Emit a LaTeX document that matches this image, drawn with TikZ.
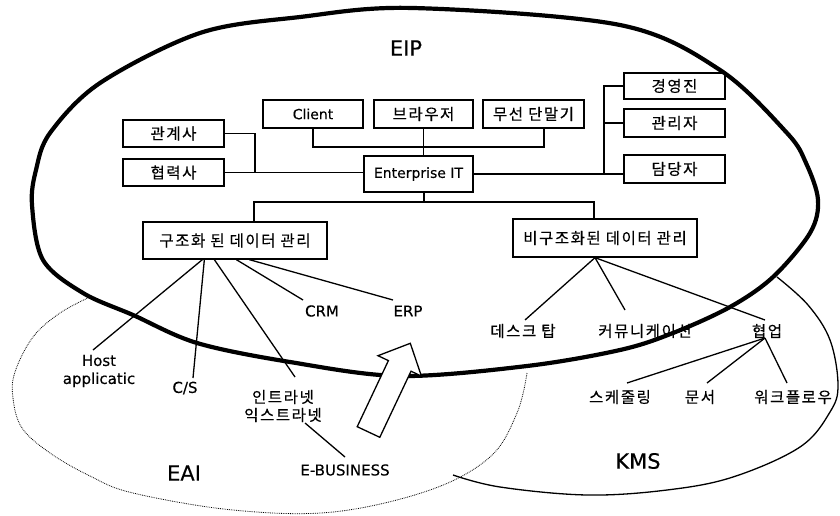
\documentclass[tikz,border=0pt]{standalone}
\usepackage{fontspec}
\newfontfamily\latf[FakeBold=0.3]{DejaVu Sans}
\newfontfamily\korf[LetterSpace=10, FakeBold=0.4]{Noto Sans CJK KR}
\usetikzlibrary{calc}

\begin{document}
\begin{tikzpicture}[x=1pt,y=-1pt,
  box/.style={draw, line width=1.3pt, fill=white, inner sep=0pt, minimum height=28pt},
  conn/.style={line width=1.1pt},
  leafline/.style={line width=1.3pt},
  kt/.style={font=\korf\fontsize{15.5}{18}\selectfont},
  lt/.style={font=\latf\fontsize{14}{18}\selectfont},
  lleaf/.style={font=\latf\fontsize{15}{18}\selectfont, inner sep=0pt, align=center},
  kleaf/.style={font=\korf\fontsize{15.5}{18}\selectfont, inner sep=0pt, align=center},
  biglabel/.style={font=\latf\fontsize{21}{24}\selectfont, inner sep=0pt},
  boundary/.style={line width=4.2pt, line join=round},
]
\fill[white] (0,0) rectangle (840,516);
\useasboundingbox (0,0) rectangle (840,516);

% EAI region (dotted) and KMS region (solid), partly hidden by EIP
\draw[line width=0.8pt, densely dotted] plot[smooth, tension=0.6] coordinates {
  (92,296) (60,313) (33,337) (15,372) (13,398) (22,428) (50,453) (90,476)
  (133,493) (233,510) (333,512) (430,490) (490,457) (517,413) (527,373)};
\draw[line width=1.3pt] plot[smooth, tension=0.6] coordinates {
  (777,277) (808,305) (830,340) (838,385) (830,412) (800,447) (733,477)
  (667,490) (587,495) (500,487) (453,475)};

% boxes
\node[box, kt, minimum width=101pt, minimum height=27pt] (gwangye) at (173.5,133.5) {관계사};
\node[box, kt, minimum width=101pt, minimum height=27pt] (hyeop) at (173.5,172.5) {협력사};
\node[box, lt, minimum width=100pt] (client) at (313,114) {Client};
\node[box, kt, minimum width=99pt] (browser) at (423.5,114) {브라우저};
\node[box, kt, minimum width=101pt] (wireless) at (533.5,114) {무선 단말기};
\node[box, lt, minimum width=109pt, minimum height=36pt] (ent) at (418.5,174) {Enterprise IT};
\node[box, kt, minimum width=101pt, minimum height=26pt] (exec) at (674.5,86) {경영진};
\node[box, kt, minimum width=101pt] (mgr) at (674.5,123) {관리자};
\node[box, kt, minimum width=101pt] (staff) at (674.5,169) {담당자};
\node[box, kt, minimum width=184pt, minimum height=37pt] (sdata) at (235,240.5) {구조화 된 데이터 관리};
\node[box, kt, minimum width=184pt, minimum height=38pt] (udata) at (605,238) {비구조화된 데이터 관리};

% connectors of the organisation chart
\coordinate (busR) at (544,147);
\coordinate (lv) at (255,172.5);
\coordinate (rv) at (604,174);
\coordinate (hb) at (424,202);
\coordinate (hl) at (254,202);
\coordinate (hr) at (594,202);
\draw[conn] (client.south) -- (client.south |- busR) -- (busR) -- (busR |- wireless.south);
\draw[conn] (browser.south) -- (browser.south |- ent.north);
\draw[conn] (gwangye.east) -| (lv);
\draw[conn] (hyeop.east) -- (hyeop.east -| ent.west);
\draw[conn] (ent.east) -- (ent.east -| staff.west);
\draw[conn] (exec.west) -| (rv);
\draw[conn] (mgr.west) -- (mgr.west -| rv);
\draw[conn] (hb |- ent.south) -- (hb);
\draw[conn] (hl |- sdata.north) -- (hl) -- (hr) -- (hr |- udata.north);

% leaves of the structured data
\node[lleaf] (host) at (99,371) {Host\\applicatic};
\node[lleaf] (cs) at (185,388) {C/S};
\node[kleaf] (intra) at (283,406) {인트라넷\\익스트라넷};
\node[lleaf] (crm) at (322,311) {CRM};
\node[lleaf] (erp) at (408,311) {ERP};
\node[lleaf] (ebiz) at (345,470) {E-BUSINESS};
\draw[leafline] ([xshift=60pt]sdata.south west) -- ([shift={(-6pt,21pt)}]host.center);
\draw[leafline] ([xshift=62pt]sdata.south west) -- ([shift={(8pt,10pt)}]cs.center);
\draw[leafline] ([xshift=72pt]sdata.south west) -- ([shift={(12pt,29pt)}]intra.center);
\draw[leafline] ([xshift=94pt]sdata.south west) -- ([shift={(-19pt,11pt)}]crm.center);
\draw[leafline] ([xshift=107pt]sdata.south west) -- ([shift={(-15pt,11pt)}]erp.center);
\draw[leafline] ([shift={(22pt,-17pt)}]intra.center) -- ([shift={(0pt,13pt)}]ebiz.center);

% leaves of the unstructured data
\node[kleaf] (desk) at (523,331) {데스크 탑};
\node[kleaf] (comm) at (645,331) {커뮤니케이션};
\node[kleaf] (collab) at (767,331) {협업};
\node[kleaf] (sched) at (620,397) {스케줄링};
\node[kleaf] (doc) at (700,397) {문서};
\node[kleaf] (wf) at (793,397) {워크플로우};
\draw[leafline] ([xshift=-10pt]udata.south) -- ([shift={(2pt,11pt)}]desk.center);
\draw[leafline] ([xshift=-10pt]udata.south) -- ([shift={(-20pt,21pt)}]comm.center);
\draw[leafline] ([xshift=-10pt]udata.south) -- ([shift={(-2pt,11pt)}]collab.center);
\draw[leafline] ([shift={(-2pt,-7pt)}]collab.center) -- ([shift={(7pt,14pt)}]sched.center);
\draw[leafline] ([shift={(-2pt,-7pt)}]collab.center) -- ([shift={(7pt,14pt)}]doc.center);
\draw[leafline] ([shift={(-2pt,-7pt)}]collab.center) -- ([shift={(-6pt,14pt)}]wf.center);

% region labels
\node[biglabel] (eip) at (406,48) {EIP};
\node[biglabel] (eai) at (184,473) {EAI};
\node[biglabel] (kms) at (638,461) {KMS};

% EIP boundary
\draw[boundary] plot[smooth cycle, tension=0.55] coordinates {
  (32,205) (43,260) (83,293) (133,315) (197,343) (290,362) (400,376)
  (527,366) (620,350) (673,333) (730,307) (773,277) (810,233) (818,200)
  (806,163) (787,133) (720,70) (620,25) (413,8) (300,17) (200,33)
  (100,83) (50,133) (36,170)};

% hollow block arrow from EAI into EIP
\draw[line width=1.3pt, fill=white, line join=miter]
  (357.2,426.7) -- (379.8,437.3) -- (411.0,371.2) -- (421.4,376.1)
  -- (410.3,343.3) -- (378.0,355.7) -- (388.4,360.6) -- cycle;
\end{tikzpicture}
\end{document}
